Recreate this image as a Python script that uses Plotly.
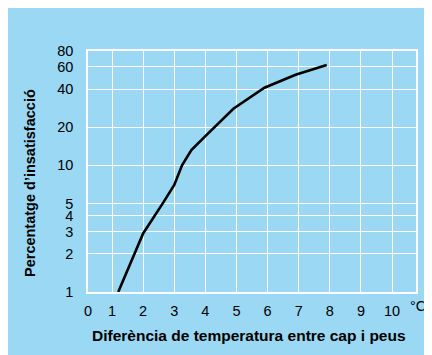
import plotly.graph_objects as go
import math

# Data
temp_diff = [1.2, 2.0, 2.65, 3.0, 3.25, 3.55, 4.0, 4.5, 4.9, 5.9, 6.9, 7.9]
dissatisfied_pct = [1, 2.9, 5.1, 7, 10, 13.2, 17, 22.5, 28, 41, 52, 62]

x_tick_values = [1, 2, 3, 4, 5, 6, 7, 8, 9, 10]
x_tick_labels = ["0", "1", "2", "3", "4", "5", "6", "7", "8", "9", "10"]
y_tick_values = [1, 2, 3, 4, 5, 10, 20, 40, 60, 80]
y_tick_labels = ["1", "2", "3", "4", "5", "10", "20", "40", "60", "80"]

x_min, x_max = 0.228, 10.77
BLUE = "#9AD8F3"
FONT = "Liberation Sans, Arial, sans-serif"

PW, PH = 328, 241  # plot area size in px

fig = go.Figure()
fig.add_trace(go.Scatter(
    x=temp_diff, y=dissatisfied_pct, mode="lines",
    line=dict(color="black", width=2.6), hoverinfo="skip", showlegend=False,
))

fig.update_layout(
    width=432, height=355,
    margin=dict(l=80, r=24, t=43, b=71),
    paper_bgcolor=BLUE, plot_bgcolor=BLUE,
    font=dict(family=FONT, size=14.5, color="black"),
    xaxis=dict(
        range=[x_min, x_max],
        tickvals=[x_min] + x_tick_values, ticktext=x_tick_labels,
        showgrid=True, gridcolor="white", gridwidth=1.3,
        showline=True, linecolor="white", linewidth=1.5, mirror=True,
        zeroline=False, ticks="", ticklabelstandoff=5,
        tickfont=dict(size=14.5),
    ),
    yaxis=dict(
        type="log", range=[0, math.log10(80)],
        tickvals=y_tick_values, ticktext=y_tick_labels,
        showgrid=True, gridcolor="white", gridwidth=1.3,
        showline=True, linecolor="white", linewidth=1.5, mirror=True,
        zeroline=False, ticks="", ticklabelstandoff=10,
        tickfont=dict(size=14.5),
    ),
    annotations=[
        dict(text="°C", xref="paper", yref="paper", x=(428 - 88) / PW, y=-(306 - 292) / PH,
             xanchor="right", yanchor="middle", showarrow=False, font=dict(size=14.5)),
        dict(text="<b>Diferència de temperatura entre cap i peus</b>", xref="paper", yref="paper",
             x=(249 - 88) / PW, y=-(335 - 292) / PH, xanchor="center", yanchor="middle",
             showarrow=False, font=dict(size=15.5)),
        dict(text="<b>Percentatge d’insatisfacció</b>", xref="paper", yref="paper",
             x=-(88 - 30) / PW, y=(292 - 183) / PH, xanchor="center", yanchor="middle",
             textangle=-90, showarrow=False, font=dict(size=14.5)),
    ],
)

fig.write_html("out.html")
